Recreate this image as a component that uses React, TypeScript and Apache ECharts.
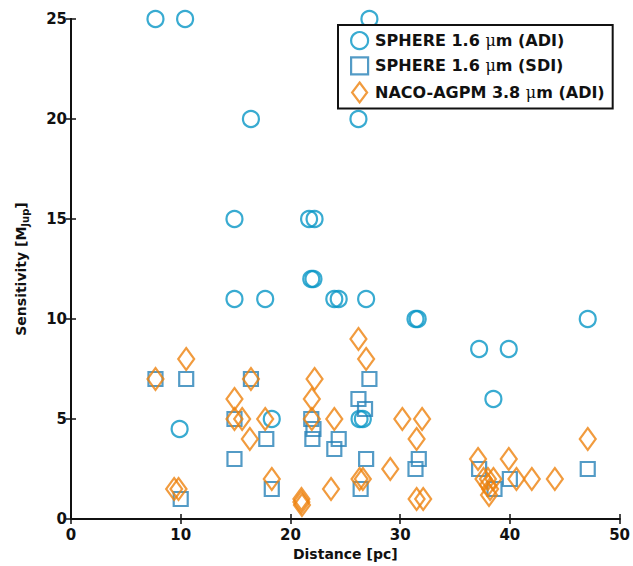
import React, { useEffect, useRef } from "react";
import * as echarts from "echarts";

const xTicks = [0, 10, 20, 30, 40, 50];
const yTicks = [0, 5, 10, 15, 20, 25];

const adiName = "SPHERE 1.6 μm (ADI)";
const sdiName = "SPHERE 1.6 μm (SDI)";
const nacoName = "NACO-AGPM 3.8 μm (ADI)";

const adiX = [7.7, 10.4, 16.4, 26.2, 27.2, 14.9, 21.7, 22.2, 21.9, 22.1, 14.9, 17.7, 24.0, 24.4, 26.9, 31.4, 31.6, 37.2, 39.9, 38.5, 47.1, 9.9, 18.3, 26.3, 26.6];
const adiY = [25, 25, 20, 20, 25, 15, 15, 15, 12, 12, 11, 11, 11, 11, 11, 10, 10, 8.5, 8.5, 6, 10, 4.5, 5, 5, 5];

const sdiX = [7.7, 10.5, 16.4, 14.9, 17.8, 14.9, 10.0, 18.3, 21.9, 22.1, 22.0, 24.4, 24.0, 27.2, 26.2, 26.8, 26.9, 26.4, 31.7, 31.4, 37.2, 38.6, 40.0, 47.1];
const sdiY = [7, 7, 7, 5, 4, 3, 1, 1.5, 5, 4.5, 4, 4, 3.5, 7, 6, 5.5, 3, 1.5, 3, 2.5, 2.5, 1.5, 2, 2.5];

const nacoX = [7.7, 10.5, 16.4, 14.9, 14.9, 15.6, 16.3, 17.7, 18.3, 9.4, 9.8, 22.2, 21.95, 21.95, 21.0, 21.0, 21.05, 24.0, 23.7, 26.2, 26.9, 26.3, 26.6, 29.1, 30.2, 32.0, 31.5, 31.5, 32.1, 37.1, 37.6, 38.0, 38.5, 38.0, 38.2, 38.1, 39.9, 40.6, 42.0, 44.1, 47.1];
const nacoY = [7, 8, 7, 6, 5, 5, 4, 5, 2, 1.5, 1.5, 7, 6, 5, 1.0, 0.85, 0.7, 5, 1.5, 9, 8, 2, 2, 2.5, 5, 5, 4, 1, 1, 3, 2, 2, 2, 1.7, 1.5, 1.2, 3, 2, 2, 2, 4];

const cAdi = "#0796c6";
const cSdi = "#2882b8";
const cNaco = "#ee820e";

const FONT = "DejaVu Sans";

const zip = (xs: number[], ys: number[]) => xs.map((x, i) => [x, ys[i]]);

export default function App() {
  const ref = useRef<HTMLDivElement>(null);
  useEffect(() => {
    if (!ref.current) return;
    const chart = echarts.init(ref.current, null, { renderer: "svg" });
    const axisLine = { show: true, lineStyle: { color: "#111", width: 2 } };
    const tick = { show: true, inside: true, length: 5, lineStyle: { color: "#111", width: 1.5 } };
    const label = { color: "#111", fontFamily: FONT, fontWeight: "bold" as const, fontSize: 15 };
    const mk = (name: string, symbol: string, size: any, color: string, data: number[][]) => ({
      type: "scatter",
      name,
      symbol,
      symbolSize: size,
      data,
      itemStyle: { color: "rgba(0,0,0,0)", borderColor: color, borderWidth: 2.2 },
      emphasis: { disabled: true },
      z: 3,
    });
    chart.setOption({
      animation: false,
      backgroundColor: "#fff",
      grid: { left: 71, right: 10, top: 19, bottom: 47, containLabel: false },
      legend: {
        left: 338,
        top: 25,
        orient: "vertical",
        backgroundColor: "#fff",
        borderColor: "#111",
        borderWidth: 2,
        borderRadius: 0,
        padding: [6, 8, 5, 12],
        itemGap: 6,
        itemWidth: 17,
        itemHeight: 20,
        symbolKeepAspect: true,
        selectedMode: false,
        formatter: (n: string) => n.replace("μ", "{mu|μ}"),
        textStyle: {
          color: "#111",
          fontFamily: FONT,
          fontWeight: "bold",
          fontSize: 16,
          padding: [0, 0, 0, 2],
          rich: {
            mu: { fontFamily: "DejaVu Serif", fontWeight: "normal", fontSize: 16, color: "#111" },
          },
        },
        data: [
          { name: adiName, icon: "circle", itemStyle: { color: "rgba(0,0,0,0)", borderColor: cAdi, borderWidth: 2.2 } },
          { name: sdiName, icon: "path://M0,0L1,0L1,1L0,1Z", itemStyle: { color: "rgba(0,0,0,0)", borderColor: cSdi, borderWidth: 2.2 } },
          { name: nacoName, icon: "path://M0,0L0.75,1L0,2L-0.75,1Z", itemStyle: { color: "rgba(0,0,0,0)", borderColor: cNaco, borderWidth: 2.2 } },
        ],
      },
      xAxis: [
        {
          type: "value",
          min: xTicks[0],
          max: xTicks[xTicks.length - 1],
          interval: 10,
          name: "Distance [pc]",
          nameLocation: "middle",
          nameGap: 27,
          nameTextStyle: { color: "#111", fontFamily: FONT, fontWeight: "bold", fontSize: 14 },
          axisLine,
          axisTick: tick,
          axisLabel: { ...label, margin: 8 },
          splitLine: { show: false },
        },
        {
          type: "value",
          position: "top",
          min: xTicks[0],
          max: xTicks[xTicks.length - 1],
          interval: 10,
          axisLine,
          axisTick: tick,
          axisLabel: { show: false },
          splitLine: { show: false },
        },
      ],
      yAxis: [
        {
          type: "value",
          min: yTicks[0],
          max: yTicks[yTicks.length - 1],
          interval: 5,
          name: "{a|Sensitivity [M}{b|Jup}{a|]}",
          nameLocation: "middle",
          nameGap: 41,
          nameRotate: 90,
          nameTextStyle: {
            rich: {
              a: { color: "#111", fontFamily: FONT, fontWeight: "bold", fontSize: 14 },
              b: { color: "#111", fontFamily: FONT, fontWeight: "bold", fontSize: 10, padding: [9, 0, 0, 0] },
            },
          },
          axisLine,
          axisTick: tick,
          axisLabel: { ...label, margin: 4 },
          splitLine: { show: false },
        },
        {
          type: "value",
          position: "right",
          min: yTicks[0],
          max: yTicks[yTicks.length - 1],
          interval: 5,
          axisLine,
          axisTick: tick,
          axisLabel: { show: false },
          splitLine: { show: false },
        },
      ],
      series: [
        mk(adiName, "circle", 16, cAdi, zip(adiX, adiY)),
        mk(sdiName, "rect", 14, cSdi, zip(sdiX, sdiY)),
        mk(nacoName, "diamond", [16, 22], cNaco, zip(nacoX, nacoY)),
      ],
    });
    return () => chart.dispose();
  }, []);
  return <div ref={ref} style={{ position: "absolute", left: 0, top: 0, width: 633, height: 566 }} />;
}
